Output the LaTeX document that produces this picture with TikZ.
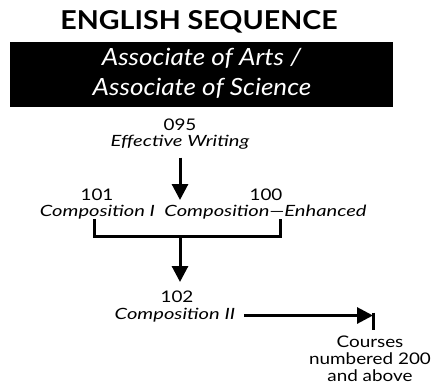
\documentclass[tikz,border=0pt]{standalone}
\usepackage{fontspec}
\setmainfont{Lato}
\newfontfamily\ttlfont{Lato}[FakeStretch=1.1,Ligatures=TeX]
\newfontfamily\boxfont{Lato}[FakeStretch=1.1,Ligatures=TeX]
\newfontfamily\numfont{Lato}[FakeStretch=1.18,Ligatures=TeX]
\newfontfamily\itfont{Lato}[FakeStretch=1.3,Ligatures=TeX]
\usetikzlibrary{arrows.meta}
\begin{document}
\begin{tikzpicture}[x=1pt,y=1pt,
  lbl/.style={anchor=base, inner sep=0pt, font=\numfont\fontsize{16}{18}\selectfont},
  ttl/.style={anchor=base, inner sep=0pt, font=\itfont\fontsize{15.5}{18}\selectfont\itshape},
  crs/.style={anchor=base, inner sep=0pt, font=\numfont\fontsize{16}{18}\selectfont},
  box/.style={anchor=base, inner sep=0pt, text=white, font=\boxfont\fontsize{23.7}{30}\selectfont\itshape},
  arr/.style={line width=3pt, -{Triangle[width=16pt,length=16pt]}},
  brk/.style={line width=3pt}]
\useasboundingbox (0,-386) rectangle (432,0);
\node[anchor=base, inner sep=0pt, font=\ttlfont\fontsize{26}{30}\selectfont\bfseries] (title) at (199,-29.5) {ENGLISH SEQUENCE};
\node[fill=black, minimum width=383, minimum height=65, inner sep=0pt] (panel) at (201.5,-74.2) {};
\node[box] (aa) at (201.5,-65) {Associate of Arts /};
\node[box] (as) at (202,-95.5) {Associate of Science};
\node[lbl] (c095) at (180,-130) {095};
\node[ttl] (t095) at (180,-146) {Effective Writing};
\node[lbl] (c101) at (97,-200) {101};
\node[ttl] (t101) at (97.5,-216) {Composition I};
\node[lbl] (c100) at (266,-200) {100};
\node[ttl] (t100) at (265.5,-216) {Composition—Enhanced};
\node[lbl] (c102) at (177,-302) {102};
\node[ttl] (t102) at (175,-319) {Composition II};
\node[crs] (cr1) at (370,-347) {Courses};
\node[crs] (cr2) at (370,-364) {numbered 200};
\node[crs] (cr3) at (370,-381) {and above};
\coordinate (hit) at (180,-200);
\coordinate (join) at (180,-236.5);
\coordinate (hit2) at (180,-282);
\coordinate (tip) at (373,-315.5);
\draw[arr] ([yshift=-8.5pt]t095.south) -- (hit);
\draw[brk] ([xshift=-3.5pt]t101.south) |- (join) -| ([xshift=14.5pt]t100.south);
\draw[arr] (join) -- (hit2);
\draw[arr] ([xshift=9pt]t102.east |- tip) -- (tip);
\draw[brk] ([yshift=3pt]tip) -- ([yshift=5pt]cr1.north -| tip);
\end{tikzpicture}
\end{document}
